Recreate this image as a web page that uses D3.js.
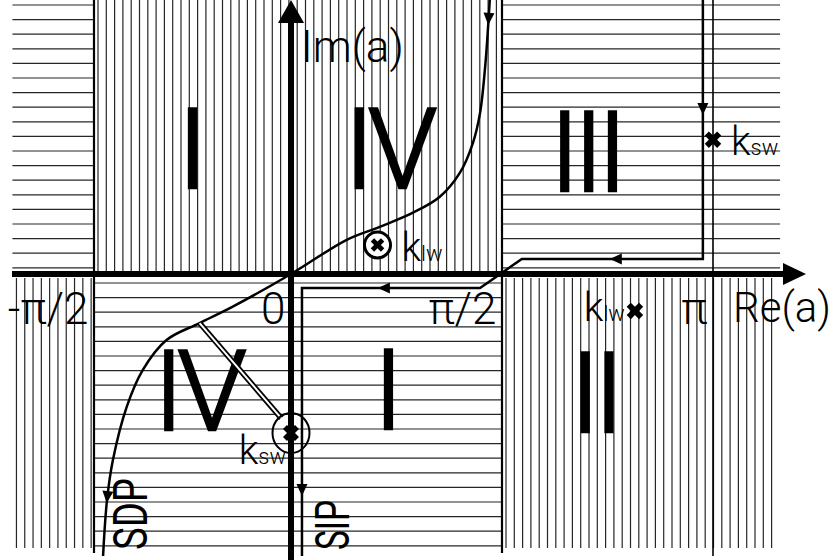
<!DOCTYPE html>
<html>
<head>
<meta charset="utf-8">
<script src="https://cdn.jsdelivr.net/npm/d3@7"></script>
<style>
  body { margin: 0; background: #fff; }
  svg { display: block; }
  text { font-family: Roboto, "Liberation Sans", sans-serif; font-weight: 400; fill: #000; }
</style>
</head>
<body>
<div id="chart"></div>
<script>
// Re(a) is kept in units of pi, Im(a) is scaled to the drawn strip (-1..1)
const RE_TICKS = [-0.5, 0, 0.5, 1]
const RE_TICK_LABELS = ["-π/2", "0", "π/2", "π"]

// hatched regions of the complex plane
const REGION_RE0 = [-0.707, -0.5, 0.5, -0.707, -0.5, 0.5]
const REGION_RE1 = [-0.5, 0.5, 1.159, -0.5, 0.5, 1.159]
const REGION_IM0 = [0, 0, 0, -1, -1, -1]
const REGION_IM1 = [1, 1, 1, 0, 0, 0]
const REGION_HATCH = ["h", "v", "h", "v", "h", "v"]

// roman numerals naming the sheets
const NUMERALS = ["I", "IV", "III", "IV", "I", "II"]
const NUMERAL_RE = [-0.258, 0.229, 0.698, -0.238, 0.224, 0.718]
const NUMERAL_IM = [0.46, 0.46, 0.449, -0.423, -0.42, -0.43]

const SDP_RE = [0.471, 0.467, 0.46, 0.448, 0.431, 0.4, 0.352, 0.288, 0.21, 0.131, 0, -0.149, -0.232, -0.316, -0.376, -0.417, -0.452, -0.467, -0.477]
const SDP_IM = [1.0, 0.901, 0.755, 0.588, 0.478, 0.369, 0.281, 0.223, 0.172, 0.124, 0, -0.12, -0.179, -0.241, -0.35, -0.485, -0.679, -0.825, -1.029]

// shifted integration path
const SIP_RE = [0.976, 0.976, 0.547, 0.448, 0.026, 0.026]
const SIP_IM = [1.0, 0.055, 0.055, -0.051, -0.051, -1.029]

// poles k_sw / k_lw
const POLE_NAMES = ["sw", "lw", "lw", "sw"]
const POLE_RE = [1.0, 0.815, 0.205, 0.0]
const POLE_IM = [0.49, -0.135, 0.106, -0.58]
const POLE_KIND = ["x", "x", "circled", "ringed"]

// double line joining the SDP to the ringed pole
const LINK_RE = [-0.232, -0.025]
const LINK_IM = [-0.179, -0.526]

const W = 840
const H = 560

const svg = d3.select("#chart").append("svg")
  .attr("width", W)
  .attr("height", H)

const x = d3.scaleLinear().domain(RE_TICKS).range([94, 291, 502, 713])
const y = d3.scaleLinear().domain([-1, 1]).range([548, 0])

// hatching
const hatch = svg.append("g")
  .attr("stroke", "#000")
  .attr("stroke-width", 1.2)
  .attr("stroke-opacity", 0.85)

REGION_HATCH.forEach((kind, i) => {
  const x0 = x(REGION_RE0[i]), x1 = x(REGION_RE1[i])
  const top = y(REGION_IM1[i]), bottom = y(REGION_IM0[i])
  const y0 = REGION_IM1[i] > 0 ? top : top + 4
  const y1 = REGION_IM1[i] > 0 ? bottom - 3 : bottom
  if (kind === "h") {
    d3.range(y0 + 5, y1, 14.6).forEach(v => {
      hatch.append("line").attr("x1", x0).attr("x2", x1).attr("y1", v).attr("y2", v)
    })
  } else {
    d3.range(x0 + 4, x1 - 1, 8.3).forEach(u => {
      hatch.append("line").attr("x1", u).attr("x2", u).attr("y1", y0).attr("y2", y1)
    })
  }
})

// sheet boundaries and the Re = pi line
svg.selectAll(".bound")
  .data([-0.5, 0.5])
  .enter().append("line")
  .attr("x1", d => x(d)).attr("x2", d => x(d))
  .attr("y1", 0).attr("y2", 553)
  .attr("stroke", "#000").attr("stroke-width", 2.2)

svg.append("line")
  .attr("x1", x(1)).attr("x2", x(1))
  .attr("y1", 0).attr("y2", 556)
  .attr("stroke", "#000").attr("stroke-width", 1.6)

// axes
const axisColor = "#000"
svg.append("line")
  .attr("x1", 12).attr("x2", 786)
  .attr("y1", y(0)).attr("y2", y(0))
  .attr("stroke", axisColor).attr("stroke-width", 6)
svg.append("path")
  .attr("d", `M${806},${y(0)} L${783},${y(0) - 11} L${783},${y(0) + 11} Z`)
  .attr("fill", axisColor)

svg.append("line")
  .attr("x1", x(0)).attr("x2", x(0))
  .attr("y1", 20).attr("y2", H)
  .attr("stroke", axisColor).attr("stroke-width", 6)
svg.append("path")
  .attr("d", `M${x(0)},0 L${x(0) - 13},23 L${x(0) + 13},23 Z`)
  .attr("fill", axisColor)

const xAxis = d3.axisBottom(x)
  .tickValues(RE_TICKS)
  .tickFormat((d, i) => RE_TICK_LABELS[i])
  .tickSize(0)
  .tickPadding(19)

const xAxisGroup = svg.append("g")
  .attr("transform", `translate(0, ${y(0)})`)
  .call(xAxis)
xAxisGroup.select(".domain").remove()
xAxisGroup.selectAll("text")
  .attr("text-anchor", "end")
  .attr("dx", -6)
  .style("font-family", "Roboto, sans-serif")
  .style("font-weight", 300)
  .style("font-size", "44px")
  .attr("fill", "#000")

svg.append("text")
  .attr("x", x(0) + 10)
  .attr("y", 62)
  .style("font-size", "44px")
  .style("font-weight", 300)
  .text("Im(a)")

svg.append("text")
  .attr("x", x(1) + 20)
  .attr("y", 322)
  .style("font-size", "42px")
  .style("font-weight", 300)
  .text("Re(a)")

// numerals
svg.selectAll(".numeral")
  .data(NUMERALS)
  .enter().append("text")
  .attr("class", "numeral")
  .attr("x", (d, i) => x(NUMERAL_RE[i]))
  .attr("y", (d, i) => y(NUMERAL_IM[i]) + 40)
  .attr("text-anchor", "middle")
  .style("font-size", "112px")
  .style("font-weight", 300)
  .style("letter-spacing", "-6px")
  .attr("stroke", "#000")
  .attr("stroke-width", 2.5)
  .text(d => d)

// paths
const line = d3.line()
  .x(d => x(d[0]))
  .y(d => y(d[1]))

const sdp = svg.append("path")
  .datum(SDP_RE.map((r, i) => [r, SDP_IM[i]]))
  .attr("d", line.curve(d3.curveCatmullRom.alpha(0.5)))
  .attr("fill", "none")
  .attr("stroke", "#000")
  .attr("stroke-width", 2.5)

const sip = svg.append("path")
  .datum(SIP_RE.map((r, i) => [r, SIP_IM[i]]))
  .attr("d", line.curve(d3.curveLinear))
  .attr("fill", "none")
  .attr("stroke", "#000")
  .attr("stroke-width", 2.5)

function addArrows(path, dists) {
  const node = path.node()
  const total = node.getTotalLength()
  dists.forEach(d => {
    const l = d >= 0 ? d : total + d
    const p = node.getPointAtLength(l)
    const q = node.getPointAtLength(Math.max(0, l - 2))
    const ang = Math.atan2(p.y - q.y, p.x - q.x) * 180 / Math.PI
    svg.append("path")
      .attr("d", "M0,0 L-12,-5.5 L-12,5.5 Z")
      .attr("transform", `translate(${p.x},${p.y}) rotate(${ang})`)
      .attr("fill", "#000")
  })
}
addArrows(sdp, [25, -53])
addArrows(sip, [115, 352, 593, 877])

// path names
svg.append("text")
  .attr("transform", `translate(${x(SDP_RE[SDP_RE.length - 1]) + 44}, 550) rotate(-90)`)
  .attr("textLength", 72)
  .attr("lengthAdjust", "spacingAndGlyphs")
  .style("font-size", "48px")
  .text("SDP")

svg.append("text")
  .attr("transform", `translate(${x(SIP_RE[SIP_RE.length - 1]) + 47}, 550) rotate(-90)`)
  .attr("textLength", 50)
  .attr("lengthAdjust", "spacingAndGlyphs")
  .style("font-size", "48px")
  .text("SIP")

// double line to the ringed pole
const link = LINK_RE.map((r, i) => [r, LINK_IM[i]])
svg.append("path")
  .attr("d", line.curve(d3.curveLinear)(link))
  .attr("stroke", "#000").attr("stroke-width", 5.5).attr("fill", "none")
svg.append("path")
  .attr("d", line.curve(d3.curveLinear)(link))
  .attr("stroke", "#fff").attr("stroke-width", 2).attr("fill", "none")

// poles
const cross = d3.symbol().type(d3.symbolCross)

POLE_KIND.forEach((kind, i) => {
  const px = x(POLE_RE[i]), py = y(POLE_IM[i])
  const g = svg.append("g").attr("transform", `translate(${px},${py})`)
  if (kind === "circled") {
    g.append("circle").attr("r", 13).attr("fill", "#fff")
      .attr("stroke", "#000").attr("stroke-width", 3)
    g.append("path").attr("d", cross.size(115)()).attr("transform", "rotate(45)")
  } else if (kind === "ringed") {
    g.append("ellipse").attr("rx", 18.5).attr("ry", 20).attr("fill", "none")
      .attr("stroke", "#000").attr("stroke-width", 2)
    g.append("path").attr("d", cross.size(160)()).attr("transform", "rotate(45)")
  } else {
    g.append("path").attr("d", cross.size(170)()).attr("transform", "rotate(45)")
  }
})

// pole labels: offsets from the marker
const LABEL_DX = [18, -10, 24, -5]
const LABEL_DY = [15, 10, 16, 31]
const LABEL_ANCHOR = ["start", "end", "start", "end"]

POLE_NAMES.forEach((name, i) => {
  const t = svg.append("text")
    .attr("x", x(POLE_RE[i]) + LABEL_DX[i])
    .attr("y", y(POLE_IM[i]) + LABEL_DY[i])
    .attr("text-anchor", LABEL_ANCHOR[i])
    .style("font-weight", 300)
  t.append("tspan").style("font-size", "40px").text("k")
  t.append("tspan").style("font-size", "22px").text(name)
})
</script>
</body>
</html>
